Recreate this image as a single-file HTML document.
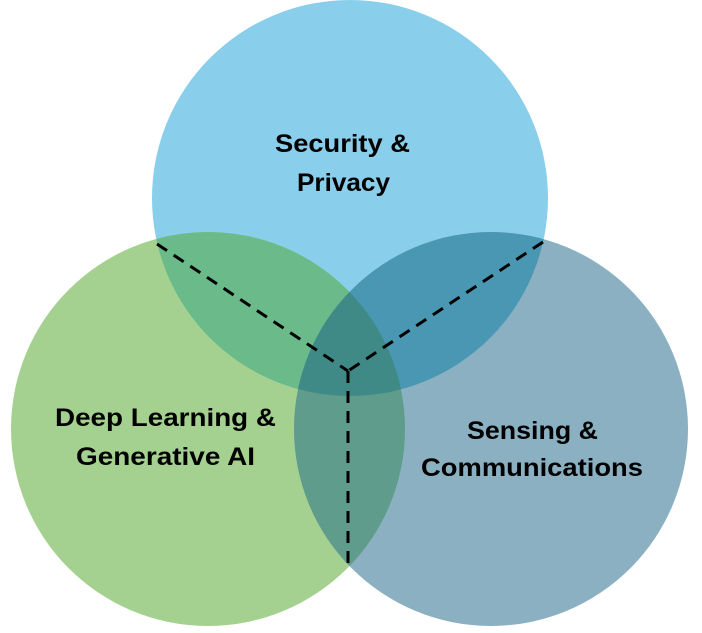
<!DOCTYPE html>
<html><head><style>body{margin:0;background:#fff}svg{display:block}</style></head><body>
<svg width="702" height="633" viewBox="0 0 702 633" xmlns="http://www.w3.org/2000/svg">
<defs>
<clipPath id="cT"><circle cx="350" cy="198" r="198"/></clipPath>
<clipPath id="cL"><circle cx="208" cy="429" r="197"/></clipPath>
<clipPath id="cR"><circle cx="491" cy="429" r="197"/></clipPath>
</defs>
<circle cx="350" cy="198" r="198" fill="#89CEEA"/>
<circle cx="208" cy="429" r="197" fill="#A4D190"/>
<circle cx="491" cy="429" r="197" fill="#8BB0C2"/>
<g clip-path="url(#cT)"><circle cx="208" cy="429" r="197" fill="#6BBA8A"/><circle cx="491" cy="429" r="197" fill="#4A97B4"/></g>
<g clip-path="url(#cL)"><circle cx="491" cy="429" r="197" fill="#5F9C8C"/></g>
<g clip-path="url(#cL)"><g clip-path="url(#cR)"><circle cx="350" cy="198" r="198" fill="#3F8A86"/></g></g>
<g stroke="#000" stroke-width="3" stroke-dasharray="12,8" fill="none">
<line x1="157" y1="244" x2="348" y2="371"/>
<line x1="543" y1="242" x2="348" y2="371"/>
<line x1="348" y1="371" x2="348" y2="566"/>
</g>
<g font-family="Liberation Sans, sans-serif" font-weight="bold" font-size="25" fill="#000" lengthAdjust="spacingAndGlyphs">
<text x="275" y="152" textLength="135" lengthAdjust="spacingAndGlyphs">Security &amp;</text>
<text x="297" y="191" textLength="93" lengthAdjust="spacingAndGlyphs">Privacy</text>
<text x="55" y="426" textLength="221" lengthAdjust="spacingAndGlyphs">Deep Learning &amp;</text>
<text x="76" y="465" textLength="179" lengthAdjust="spacingAndGlyphs">Generative AI</text>
<text x="467" y="439" textLength="131" lengthAdjust="spacingAndGlyphs">Sensing &amp;</text>
<text x="421" y="476" textLength="222" lengthAdjust="spacingAndGlyphs">Communications</text>
</g>
</svg>
</body></html>
